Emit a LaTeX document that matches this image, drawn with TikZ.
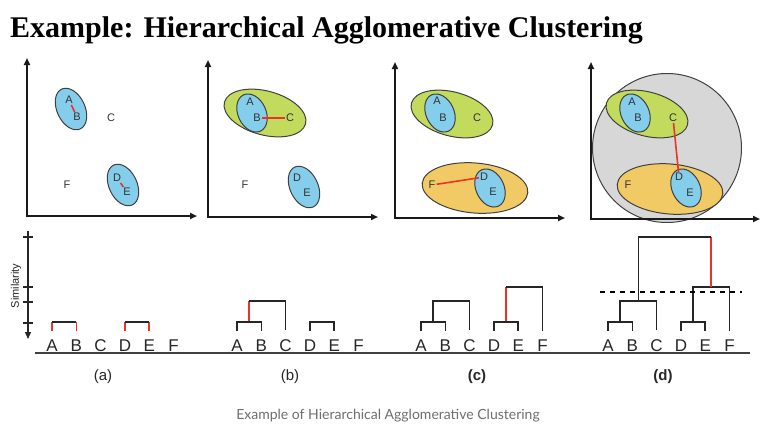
\documentclass[tikz,border=0pt]{standalone}
\usepackage{fontspec}
\setmainfont{Liberation Sans}
\newfontfamily\titlefont{Liberation Serif}
\newfontfamily\capfont{Lato}
\usetikzlibrary{calc,arrows.meta}
\definecolor{clublue}{HTML}{84CDEB}
\definecolor{clugreen}{HTML}{C3DB5C}
\definecolor{cluorange}{HTML}{F1C965}
\definecolor{clugray}{HTML}{D7D7D7}
\definecolor{linkred}{HTML}{E8352A}
\definecolor{capgray}{HTML}{6E6E6E}
\tikzset{
	axis/.style={line width=1.8pt, black!90, {Triangle[length=7pt,width=6pt]}-{Triangle[length=7pt,width=6pt]}},
	blob/.style={draw=black!75, line width=1pt},
	pt/.style={font=\fontsize{11}{11}\selectfont, text=black!80, inner sep=1pt},
	leaf/.style={font=\fontsize{17}{17}\selectfont, text=black!85, inner xsep=0pt, inner ysep=8.5pt, anchor=base},
	link/.style={linkred, line width=1.6pt},
	tree/.style={black!85, line width=1.6pt},
	panel/.style={font=\fontsize{15}{15}\selectfont, text=black!85}
}

\begin{document}
\begin{tikzpicture}[x=1pt,y=-1pt]
			%%%%% START %%%%%
			\useasboundingbox (0,0) rectangle (773,437);
			
			\node[anchor=base west, inner sep=0pt, font=\titlefont\bfseries\fontsize{30}{30}\selectfont] (title) at (10,37) {Example: Hierarchical Agglomerative Clustering};
			
			%%%%% SCATTER (a) %%%%%
			\draw[axis] (27,58) -- (27,216) -- (197,216);
			\draw[blob, fill=clublue, rotate around={25:(71,109)}] (71,109) ellipse [x radius=14, y radius=22];
			\draw[blob, fill=clublue, rotate around={25:(123,185)}] (123,185) ellipse [x radius=14, y radius=22];
			\foreach \n/\x/\y in {A/69/100, B/77/117, C/111/118, D/117/178, E/127/192, F/67/185}
				\node[pt] (sa\n) at (\x,\y) {\n};
			\draw[link] (saA) -- (saB);
			\draw[link] (saD) -- (saE);
			
			%%%%% SCATTER (b) %%%%%
			\draw[axis] (208,60) -- (208,217) -- (378,217);
			\draw[blob, fill=clugreen, rotate around={-15:(265,113)}] (265,113) ellipse [x radius=42, y radius=22];
			\draw[blob, fill=clublue, rotate around={25:(252,113)}] (252,113) ellipse [x radius=14, y radius=20];
			\draw[blob, fill=clublue, rotate around={25:(304,187)}] (304,187) ellipse [x radius=14, y radius=22];
			\foreach \n/\x/\y in {A/250/102, B/257/118, C/290/118, D/297/178, E/307/193, F/245/185}
				\node[pt] (sb\n) at (\x,\y) {\n};
			\draw[link] (sbB) -- (sbC);
			
			%%%%% SCATTER (c) %%%%%
			\draw[axis] (395,62) -- (395,218) -- (565,218);
			\draw[blob, fill=clugreen, rotate around={-15:(452,114)}] (452,114) ellipse [x radius=42, y radius=22];
			\draw[blob, fill=clublue, rotate around={25:(440,113)}] (440,113) ellipse [x radius=14, y radius=20];
			\draw[blob, fill=cluorange, rotate around={-5:(475,188)}] (475,188) ellipse [x radius=53, y radius=25];
			\draw[blob, fill=clublue, rotate around={25:(490,188)}] (490,188) ellipse [x radius=14, y radius=20];
			\foreach \n/\x/\y in {A/437/101, B/443/118, C/477/118, D/484/177, E/493/192, F/432/185}
				\node[pt] (sc\n) at (\x,\y) {\n};
			\draw[link] (scF) -- (scD);
			
			%%%%% SCATTER (d) %%%%%
			\draw[blob, fill=clugray] (667,148) circle (74.5);
			\draw[blob, fill=clugreen, rotate around={-15:(647,114)}] (647,114) ellipse [x radius=42, y radius=22];
			\draw[blob, fill=clublue, rotate around={25:(635,113)}] (635,113) ellipse [x radius=14, y radius=20];
			\draw[blob, fill=cluorange, rotate around={-5:(670,189)}] (670,189) ellipse [x radius=53, y radius=25];
			\draw[blob, fill=clublue, rotate around={25:(686,188)}] (686,188) ellipse [x radius=14, y radius=20];
			\foreach \n/\x/\y in {A/632/102, B/638/118, C/673/118, D/679/177, E/690/193, F/628/185}
				\node[pt] (sd\n) at (\x,\y) {\n};
			\draw[link] (sdC) -- (sdD);
			\draw[axis] (591,62) -- (591,219) -- (760,219);
			
			%%%%% DENDROGRAMS %%%%%
			\draw[line width=1.3pt, black!85, -{Triangle[length=7pt,width=6pt]}] (28,231) -- (28,339);
			\foreach \t in {237,287,302,323}
				\draw[line width=1.2pt, black!85] (23,\t) -- (33,\t);
			\node[rotate=90, font=\fontsize{11}{11}\selectfont, text=black!85] (sim) at (16,286) {Similarity};
			
			\foreach \p/\x in {a/52,b/237,c/421,d/608}
				\foreach \l [count=\i from 0] in {A,B,C,D,E,F}
					\node[leaf] (d\p\l) at ({\x+24.3*\i},351) {\l};
			
			\draw[line width=1.6pt, black!75] (35,353) -- (750,353);
			
			% (a)
			\draw[link] (daA.north) -- (daA.north |- 0,322);
			\draw[link] (daB.north) -- (daB.north |- 0,322);
			\draw[tree] (daA.north |- 0,322) -- (daB.north |- 0,322);
			\draw[link] (daD.north) -- (daD.north |- 0,322);
			\draw[link] (daE.north) -- (daE.north |- 0,322);
			\draw[tree] (daD.north |- 0,322) -- (daE.north |- 0,322);
			
			% (b)
			\coordinate (dbAB) at ($(dbA.north)!.5!(dbB.north)$);
			\draw[link] (dbAB |- 0,322) -- (dbAB |- 0,301);
			\draw[tree] (dbA.north) |- (dbB.north |- 0,322) -- (dbB.north);
			\draw[tree] (dbAB |- 0,301) -| (dbC.north);
			\draw[tree] (dbD.north) |- (dbE.north |- 0,322) -- (dbE.north);
			
			% (c)
			\coordinate (dcAB) at ($(dcA.north)!.5!(dcB.north)$);
			\coordinate (dcDE) at ($(dcD.north)!.5!(dcE.north)$);
			\draw[tree] (dcA.north) |- (dcB.north |- 0,322) -- (dcB.north);
			\draw[tree] (dcAB |- 0,322) |- (dcC.north |- 0,301) -- (dcC.north);
			\draw[link] (dcDE |- 0,322) -- (dcDE |- 0,287);
			\draw[tree] (dcD.north) |- (dcE.north |- 0,322) -- (dcE.north);
			\draw[tree] (dcDE |- 0,287) -| (dcF.north);
			
			% (d)
			\coordinate (ddAB) at ($(ddA.north)!.5!(ddB.north)$);
			\coordinate (ddDE) at ($(ddD.north)!.5!(ddE.north)$);
			\coordinate (ddABC) at ($(ddAB)!.5!(ddC.north)$);
			\coordinate (ddDEF) at ($(ddDE)!.5!(ddF.north)$);
			\draw[tree] (ddA.north) |- (ddB.north |- 0,322) -- (ddB.north);
			\draw[tree] (ddAB |- 0,322) |- (ddC.north |- 0,301) -- (ddC.north);
			\draw[tree] (ddD.north) |- (ddE.north |- 0,322) -- (ddE.north);
			\draw[tree] (ddDE |- 0,322) |- (ddF.north |- 0,287) -- (ddF.north);
			\draw[link] (ddDEF |- 0,287) -- (ddDEF |- 0,237);
			\draw[tree] (ddABC |- 0,301) |- (ddDEF |- 0,237);
			\draw[line width=1.3pt, dash pattern=on 5pt off 5pt] (600,292) -- (742,292);
			
			\node[panel] (capa) at (103,377) {(a)};
			\node[panel] (capb) at (290,377) {(b)};
			\node[panel, font=\bfseries\fontsize{15}{15}\selectfont] (capc) at (477,377) {(c)};
			\node[panel, font=\bfseries\fontsize{15}{15}\selectfont] (capd) at (663,377) {(d)};
			
			\node[font=\capfont\fontsize{14}{14}\selectfont, text=capgray] (caption) at (388,416) {Example of Hierarchical Agglomerative Clustering};
			
			%%%%% END %%%%%
\end{tikzpicture}
\end{document}
